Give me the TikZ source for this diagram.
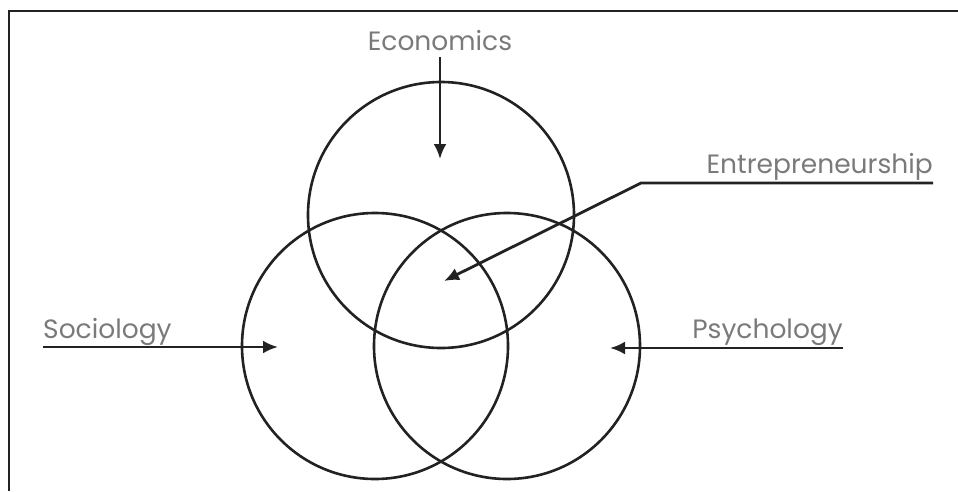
\documentclass[tikz,border=0pt]{standalone}
\usepackage{fontspec}
\newfontfamily\lblfont{Poppins}
\usetikzlibrary{arrows.meta}
\usetikzlibrary{positioning}
\definecolor{lblgray}{HTML}{7A7A7A}
\definecolor{inkdark}{HTML}{222222}
\tikzset{
    field/.style={
      circle,
           draw=inkdark, line width=2.6pt,
           inner sep=0pt,
           minimum size=266pt,
           },
}
\tikzset{
    lbl/.style={
           text=lblgray,
           inner sep=0pt,
           font=\lblfont\fontsize{26.5}{28}\selectfont,
           },
}
\tikzset{
    pointer/.style={
           draw=inkdark, line width=2.8pt,
           -{Latex[length=15pt,width=13pt]},
           },
}

\begin{document}
\begin{tikzpicture}[x=1pt,y=-1pt]

\useasboundingbox (0,0) rectangle (958,491);
\draw[line width=2pt,inkdark] (9,491) -- (9,11) -- (958,11);

\node[field](eco) at (441,215){};
\node[field](soc) at (375,346){};
\node[field](psy) at (507,346){};

\node[lbl,anchor=base](ecolbl) at (440,50){Economics};
\coordinate (ecotip) at (440,157);
\path ([yshift=-7pt]ecolbl.south) edge[pointer]([yshift=-2pt]ecotip);

\node[lbl,anchor=base east](entlbl) at (933,173){Entrepreneurship};
\coordinate (entend) at (933,183);
\coordinate (entknee) at (641,183);
\coordinate (enttip) at (444,281);
\draw[pointer] (entend) -- (entknee) -- (enttip);

\node[lbl,anchor=base west](soclbl) at (43,338){Sociology};
\coordinate (socend) at (43,347);
\coordinate (soctip) at (278,347);
\draw[pointer] (socend) -- (soctip);

\node[lbl,anchor=base east](psylbl) at (843,338){Psychology};
\coordinate (psyend) at (843,348);
\coordinate (psytip) at (610,348);
\draw[pointer] (psyend) -- (psytip);

\end{tikzpicture}
\end{document}
